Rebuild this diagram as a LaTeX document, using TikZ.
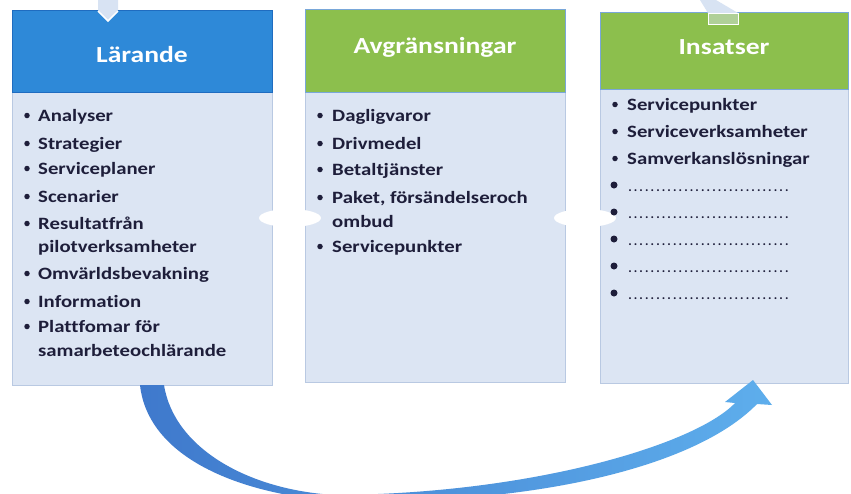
\documentclass[tikz,border=0pt]{standalone}
\usepackage{fontspec}
\setmainfont{Carlito}
\newfontfamily\widefont[FakeStretch=1.2, Ligatures=NoCommon]{Carlito}
\usetikzlibrary{shapes.geometric}
\definecolor{hblue}{HTML}{2E89D8}
\definecolor{hblueline}{HTML}{1F6CC0}
\definecolor{hgreen}{HTML}{8CBF4D}
\definecolor{bodyc}{HTML}{DCE5F3}
\definecolor{bodyline}{HTML}{B9C9E2}
\definecolor{txt}{HTML}{1E1E3A}
\definecolor{arrL}{HTML}{3F79CC}
\definecolor{arrR}{HTML}{5EAEEC}
\definecolor{frag}{HTML}{D8E3F3}
\begin{document}
\begin{tikzpicture}[x=1pt,y=-1pt,
  hdr/.style={anchor=north west, inner sep=0pt, minimum width=#1},
  htxt/.style={text=white, inner sep=0pt, font=\widefont\fontsize{23}{25}\selectfont\bfseries},
  bodybox/.style={anchor=north west, inner sep=0pt, minimum width=#1, fill=bodyc, draw=bodyline, line width=0.6pt},
  itm/.style={anchor=base west, inner sep=0pt, text=txt, font=\widefont\fontsize{17.3}{19}\selectfont\bfseries},
  bul/.style={circle, fill=txt, inner sep=0pt, minimum size=5.5pt},
  joint/.style={ellipse, fill=white, inner sep=0pt, minimum width=62pt, minimum height=18pt}
]
\useasboundingbox (0,0) rectangle (851,493);
\fill[white] (0,0) rectangle (851,493);

% bodies
\node[bodybox=260pt, minimum height=293pt] (b1) at (12,92) {};
\node[bodybox=260pt, minimum height=290pt] (b2) at (305,92) {};
\node[bodybox=248pt, minimum height=294pt] (b3) at (600,89) {};

% headers
\node[hdr=260pt, minimum height=82pt, fill=hblue, draw=hblueline, line width=0.6pt] (h1) at (12,10) {};
\node[htxt] (t1) at (142,55) {Lärande};
\node[hdr=260pt, minimum height=83pt, fill=hgreen, draw=hblueline!60, line width=0.6pt] (h2) at (305,9) {};
\node[htxt] (t2) at (435,47) {Avgränsningar};
\node[hdr=248pt, minimum height=77pt, fill=hgreen, draw=hblueline!60, line width=0.6pt] (h3) at (600,12) {};
\node[htxt] (t3) at (724,47) {Insatser};

% top fragments
\path[fill=frag] (98,0) -- (98,10) -- (108,21) -- (118,10) -- (118,0) -- cycle;
\draw[white, line width=1.5pt] (98,11) -- (108,21) -- (118,11);
\path[fill=frag] (700,0) -- (716,0) -- (738,13) -- (708,13) -- cycle;
\node[anchor=north west, inner sep=0pt, minimum width=30pt, minimum height=11pt, fill=hgreen!55!bodyc, draw=white, line width=1.2pt] (fr3) at (708,13) {};

% joints
\node[joint] (j1) at (290,218) {};
\node[joint] (j2) at (585,218) {};

% Lärande items
\foreach \yy/\tt [count=\i] in {121/Analyser,149/Strategier,174/Serviceplaner,202/Scenarier,229/Resultatfrån,279/Omvärldsbevakning,307/Information,332/Plattfomar för}{
  \node[itm] (la\i) at (38,\yy) {\tt};
  \node[bul] (lb\i) at (27,\yy-5.5) {};
}
\node[itm] (la9) at (38,252) {pilotverksamheter};
\node[itm] (la10) at (38,356) {samarbeteochlärande};

% Avgränsningar items
\foreach \yy/\tt [count=\i] in {121/Dagligvaror,149/Drivmedel,175/Betaltjänster,{203}/{Paket, försändelseroch},252/Servicepunkter}{
  \node[itm] (aa\i) at (332,\yy) {\tt};
  \node[bul] (ab\i) at (320,\yy-5.5) {};
}
\node[itm] (aa6) at (332,227) {ombud};

% Insatser items
\foreach \yy/\tt [count=\i] in {110/Servicepunkter,137/Serviceverksamheter,164/Samverkanslösningar}{
  \node[itm] (ia\i) at (627,\yy) {\tt};
  \node[bul] (ib\i) at (615,\yy-5.5) {};
}
\foreach \yy [count=\i] in {185,212,239,266,293}{
  \node[bul, minimum size=7pt] (db\i) at (614,\yy) {};
  \node[itm, font=\fontsize{13}{15}\selectfont\bfseries] (dl\i) at (627,\yy+6) {\hbox to 168pt{\leaders\hbox to 5.6pt{\hss.\hss}\hfill}};
}

% curved arrow
\coordinate (as) at (152,385);
\coordinate (ae) at (753,380);
\shade[left color=arrL, right color=arrR]
  (140,385) .. controls (148,458) and (240,494) .. (335,501)
  .. controls (530,506) and (695,468) .. (757,404)
  -- (772,405) -- (ae) -- (725,402) -- (735,403)
  .. controls (695,445) and (530,494) .. (335,495)
  .. controls (248,490) and (174,448) .. (164,385) -- cycle;
\end{tikzpicture}
\end{document}
